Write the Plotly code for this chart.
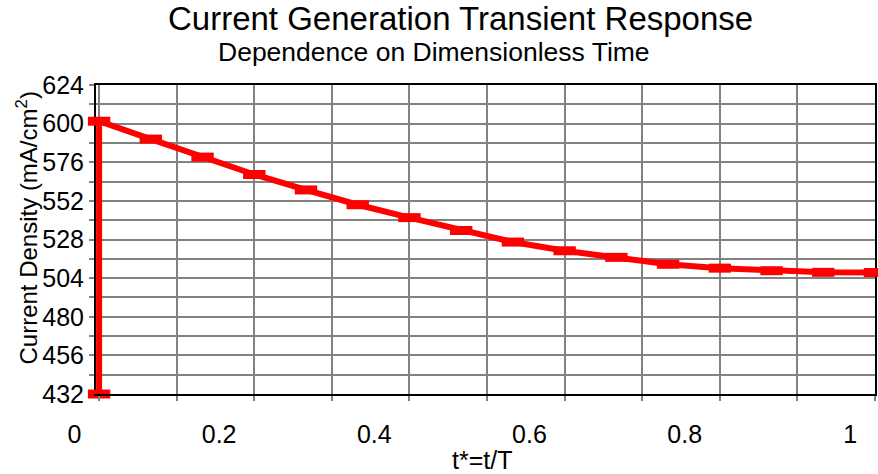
import plotly.graph_objects as go

# Dimensionless time t* = t/T and current density (mA/cm^2)
t_star = [0, 0, 1/15, 2/15, 3/15, 4/15, 5/15, 6/15, 7/15, 8/15, 9/15,
          10/15, 11/15, 12/15, 13/15, 14/15, 1]
current_density = [432, 601.5, 590.4, 579.2, 568.4, 558.8, 549.6, 541.6, 533.6,
                   526.4, 521.0, 516.9, 512.6, 510.2, 508.6, 507.6, 507.5]

x_ticks = [0, 0.2, 0.4, 0.6, 0.8, 1]
x_tick_text = ["0", "0.2", "0.4", "0.6", "0.8", "1"]
y_ticks = [432, 456, 480, 504, 528, 552, 576, 600, 624]

FONT = "Liberation Sans, Arial, sans-serif"
GRID = "#828282"

fig = go.Figure()
fig.add_trace(go.Scatter(
    x=t_star, y=current_density,
    mode="lines+markers",
    line=dict(color="#ff0000", width=6),
    marker=dict(symbol="line-ew", size=16,
                line=dict(color="#ff0000", width=9)),
    cliponaxis=False,
    showlegend=False,
))

fig.update_layout(
    width=878, height=474,
    margin=dict(l=96, r=1, t=85, b=80),
    paper_bgcolor="white", plot_bgcolor="white",
    font=dict(family=FONT, color="black"),
    xaxis=dict(
        range=[-0.004, 1], tickvals=x_ticks, ticktext=x_tick_text,
        ticks="outside", ticklen=5, tickcolor=GRID, tickwidth=1.5,
        ticklabelposition="outside left", ticklabelshift=-16,
        ticklabelstandoff=17,
        tickfont=dict(size=25),
        showgrid=True, gridcolor=GRID, gridwidth=1.5,
        minor=dict(dtick=0.1, tick0=0, showgrid=True, gridcolor=GRID,
                   gridwidth=1.5, ticks="outside", ticklen=5,
                   tickcolor=GRID, tickwidth=1.5),
        showline=True, linecolor="black", linewidth=2, mirror=True,
        zeroline=False,
    ),
    yaxis=dict(
        range=[432, 624], tickvals=y_ticks,
        ticks="outside", ticklen=5, tickcolor=GRID, tickwidth=1.5,
        tickfont=dict(size=25),
        showgrid=True, gridcolor=GRID, gridwidth=1.5,
        minor=dict(dtick=12, tick0=432, showgrid=True, gridcolor=GRID,
                   gridwidth=1.5, ticks="outside", ticklen=5,
                   tickcolor=GRID, tickwidth=1.5),
        showline=True, linecolor="black", linewidth=2, mirror=True,
        zeroline=False, layer="below traces",
    ),
    annotations=[
        dict(text="Current Generation Transient Response",
             xref="paper", yref="paper", x=0.4675, y=1.215,
             xanchor="center", yanchor="middle", showarrow=False,
             font=dict(size=33)),
        dict(text="Dependence on Dimensionless Time",
             xref="paper", yref="paper", x=0.4335, y=1.108,
             xanchor="center", yanchor="middle", showarrow=False,
             font=dict(size=26.5)),
        dict(text="t*=t/T",
             xref="paper", yref="paper", x=0.4955, y=-0.215,
             xanchor="center", yanchor="middle", showarrow=False,
             font=dict(size=25)),
        dict(text="Current Density (mA/cm<sup>2</sup>)",
             xref="paper", yref="paper", x=-0.088, y=0.537,
             xanchor="center", yanchor="middle", showarrow=False,
             textangle=-90, font=dict(size=24)),
    ],
)

fig.write_html("out.html")
